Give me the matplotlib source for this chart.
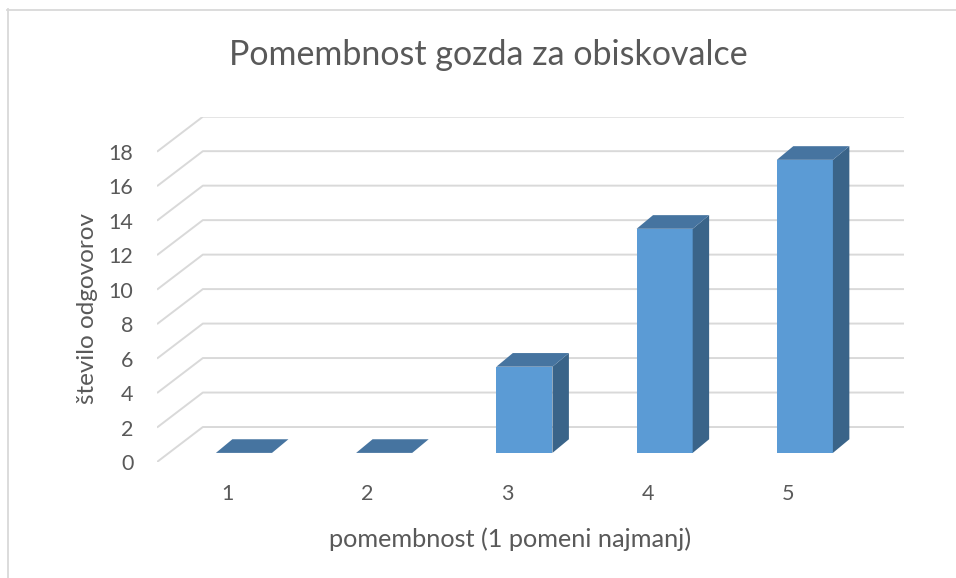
import matplotlib.pyplot as plt
from matplotlib.lines import Line2D

# datos del grafico
kategorije = [1, 2, 3, 4, 5]
odgovori = [0, 0, 5, 13, 17]
y_ticks = [0, 2, 4, 6, 8, 10, 12, 14, 16, 18]

naslov = "Pomembnost gozda za obiskovalce"
x_naslov = "pomembnost (1 pomeni najmanj)"
y_naslov = "število odgovorov"

# --- estilo ---
BARVA_SPREDAJ = "#5B9BD5"
BARVA_ZGORAJ = "#4674A0"
BARVA_STRAN = "#3A6489"
BARVA_MREZA = "#D9D9D9"
BARVA_TEKST = "#595959"

plt.rcParams["font.family"] = ["Lato", "DejaVu Sans"]

W, H = 956, 578
fig = plt.figure(figsize=(W / 100, H / 100), dpi=100)
fig.patch.set_facecolor("white")

# axes: front plane left at x=157, bottom y=462, back wall top at y=117
ax = fig.add_axes([157 / W, (H - 462) / H, 747 / W, (462 - 116.7) / H])
ax.set_facecolor("none")

DX = 0.327   # global depth in category units
DY = 2.03    # global depth in value units
F0, F1 = 0.26, 0.65   # depth of bars (fraction)
SIR = 0.4            # bar width
X_OFF = 0.035

x_min, x_max = kategorije[0] - 0.5, kategorije[-1] + 0.5
ax.set_xlim(x_min, x_max + DX)
ax.set_ylim(0, y_ticks[-1] + DY)

# back wall + floor diagonals
for v in y_ticks:
    ax.plot([x_min, x_min + DX, x_max + DX], [v, v + DY, v + DY],
            color=BARVA_MREZA, linewidth=1.4, solid_capstyle="butt", zorder=1)

# 3D bars
for k, val in zip(kategorije, odgovori):
    x0 = k - SIR / 2 + F0 * DX + X_OFF
    x1 = k + SIR / 2 + F0 * DX + X_OFF
    y0 = F0 * DY
    ddx = (F1 - F0) * DX * 0.92
    ddy = (F1 - F0) * DY
    if val > 0:
        ax.fill([x0, x1, x1, x0], [y0, y0, y0 + val, y0 + val],
                color=BARVA_SPREDAJ, linewidth=0, zorder=3)
        ax.fill([x1, x1 + ddx, x1 + ddx, x1],
                [y0, y0 + ddy, y0 + ddy + val, y0 + val],
                color=BARVA_STRAN, linewidth=0, zorder=3)
    ax.fill([x0, x1, x1 + ddx, x0 + ddx],
            [y0 + val, y0 + val, y0 + val + ddy, y0 + val + ddy],
            color=BARVA_ZGORAJ, linewidth=0, zorder=3)

for s in ax.spines.values():
    s.set_visible(False)

ax.set_xticks(kategorije)
ax.set_xticklabels([str(k) for k in kategorije])
ax.set_yticks(y_ticks)
ax.set_yticklabels([str(v) for v in y_ticks])
ax.tick_params(axis="both", length=0, labelsize=15.5, colors=BARVA_TEKST)
ax.tick_params(axis="x", pad=16)
ax.tick_params(axis="y", pad=17)

ax.set_xlabel(x_naslov, fontsize=18.2, color=BARVA_TEKST)
ax.xaxis.set_label_coords((510 - 157) / 747, (462 - 539) / 345.3)
ax.xaxis.label.set_va("center")
ax.set_ylabel(y_naslov, fontsize=17.5, color=BARVA_TEKST)
ax.yaxis.set_label_coords((88 - 157) / 747, (462 - 309) / 345.3)
ax.yaxis.label.set_va("center")

fig.text(488 / W, 1 - 55 / H, naslov, ha="center", va="center",
         fontsize=24.5, color=BARVA_TEKST)

# chart border (only top/left visible)
fig.add_artist(Line2D([7.5 / W, 7.5 / W], [0, 1 - 9 / H],
                      color=BARVA_MREZA, linewidth=1.3))
fig.add_artist(Line2D([7 / W, 1], [1 - 9.5 / H, 1 - 9.5 / H],
                      color=BARVA_MREZA, linewidth=1.3))

fig.savefig("out.png", dpi=100, facecolor="white")
